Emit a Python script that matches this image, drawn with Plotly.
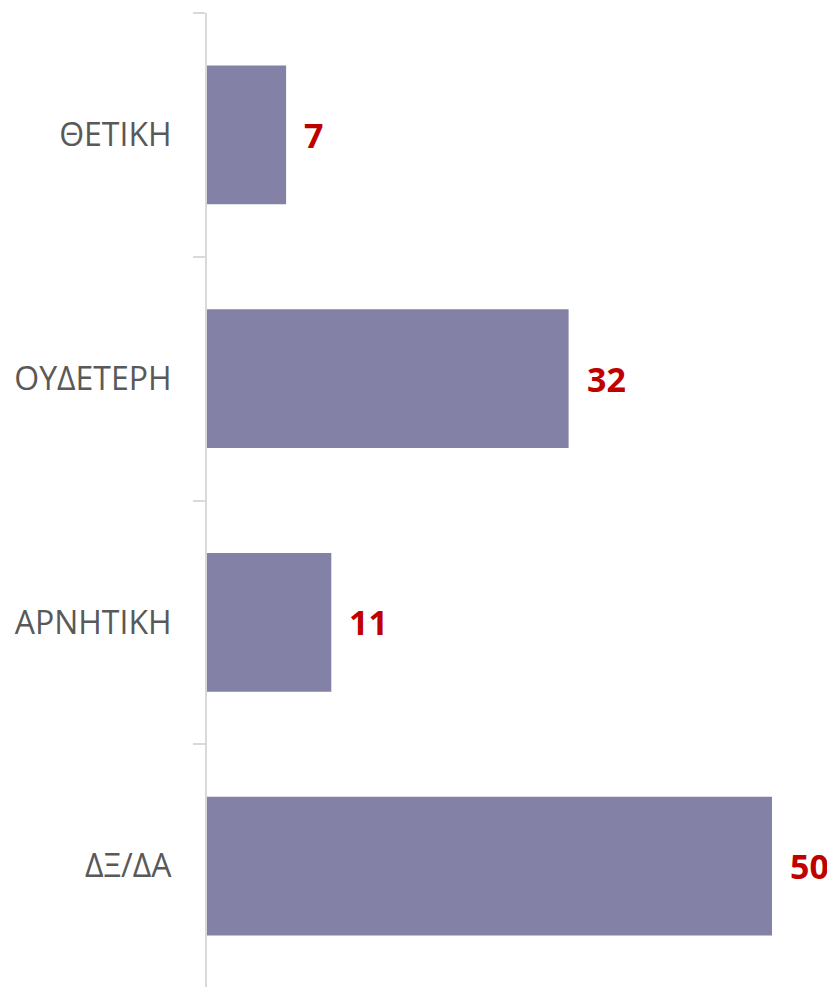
import plotly.graph_objects as go

categories = ["ΘΕΤΙΚΗ", "ΟΥΔΕΤΕΡΗ", "ΑΡΝΗΤΙΚΗ", "ΔΞ/ΔΑ"]
values = [7, 32, 11, 50]

bar_color = "#8382A6"
label_color = "#C00000"

fig = go.Figure(go.Bar(
    x=values, y=categories, orientation="h",
    marker=dict(color=bar_color, line=dict(width=0)),
    width=0.57, hoverinfo="skip",
))

for c, v in zip(categories, values):
    fig.add_annotation(x=v, y=c, text=f"<b>{v}</b>", showarrow=False,
                       xanchor="left", xshift=16, yshift=0,
                       font=dict(family="Open Sans", size=34, color=label_color))

fig.update_layout(
    width=835, height=987,
    margin=dict(l=199, r=8, t=5, b=7),
    plot_bgcolor="white", paper_bgcolor="white",
    showlegend=False,
)
fig.update_xaxes(range=[0, 628 / 11.3], visible=False, showgrid=False, zeroline=False)
fig.update_yaxes(
    autorange=False, range=[3.5, -0.5], type="category",
    categoryorder="array", categoryarray=categories,
    showline=True, linecolor="#D9D9D9", linewidth=2,
    ticks="outside", ticklen=12, tickcolor="#D9D9D9", tickwidth=2,
    tickson="boundaries", ticklabelstandoff=27,
    tickfont=dict(family="Open Sans", size=32, color="#595959"),
    showgrid=False, zeroline=False,
)

fig.write_html("out.html")
